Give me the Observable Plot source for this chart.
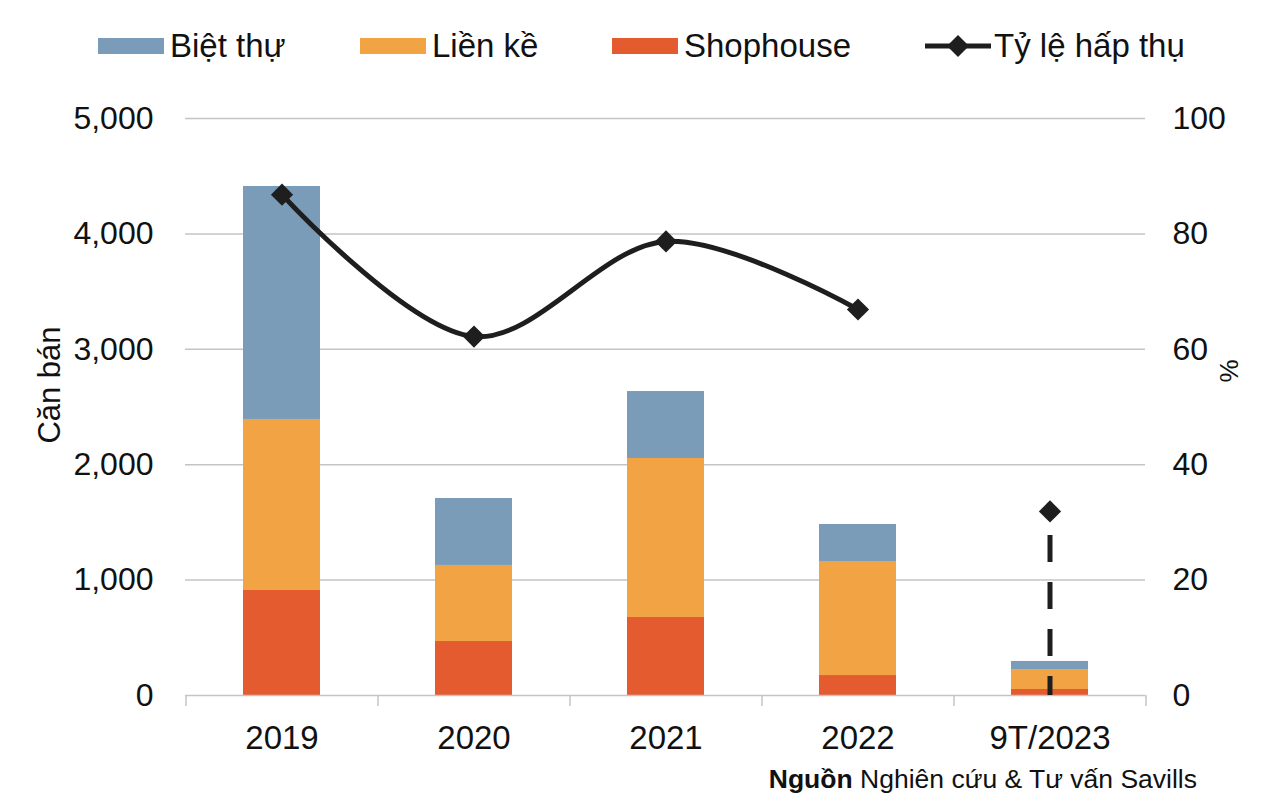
<!DOCTYPE html>
<html>
<head>
<meta charset="utf-8">
<script src="https://cdn.jsdelivr.net/npm/d3@7"></script>
<script src="https://cdn.jsdelivr.net/npm/@observablehq/plot@0.6"></script>
<style>
  html, body { margin: 0; padding: 0; background: #fff; }
  #wrap { position: relative; width: 1284px; height: 808px; font-family: "Liberation Sans", Arial, sans-serif; color: #111; }
  #chart { position: absolute; left: 0; top: 0; }
  .leg { position: absolute; top: 27px; height: 38px; display: flex; align-items: center; font-size: 33px; white-space: nowrap; }
  .sw { width: 66px; height: 16px; margin-right: 6px; }
  .caption { position: absolute; top: 764px; right: 87px; font-size: 26.5px; white-space: nowrap; }
</style>
</head>
<body>
<div id="wrap">
  <div id="chart"></div>
  <div class="leg" style="left:98px"><div class="sw" style="background:#7a9cb8"></div>Biệt thự</div>
  <div class="leg" style="left:360px"><div class="sw" style="background:#f2a444"></div>Liền kề</div>
  <div class="leg" style="left:612px"><div class="sw" style="background:#e55b30"></div>Shophouse</div>
  <div class="leg" style="left:925px">
    <svg width="66" height="30" style="margin-right:3px"><line x1="0" y1="15" x2="66" y2="15" stroke="#1e1e1e" stroke-width="5"/><path d="M33,4 L44,15 L33,26 L22,15 Z" fill="#1e1e1e"/></svg>Tỷ lệ hấp thụ
  </div>
  <div class="caption"><b>Nguồn</b> Nghiên cứu &amp; Tư vấn Savills</div>
</div>
<script>
const categories = ["2019", "2020", "2021", "2022", "9T/2023"];
const seriesNames = ["Shophouse", "Liền kề", "Biệt thự"];
const shophouse = [910, 468, 676, 173, 52];
const lienKe = [1482, 659, 1378, 988, 173];
const bietThu = [2019, 580, 580, 321, 70];
const tyLe = [86.8, 62.2, 78.7, 66.9, 31.9];
const colors = ["#e55b30", "#f2a444", "#7a9cb8"];
const leftTicks = [0, 1000, 2000, 3000, 4000, 5000];
const yTitle = "Căn bán";
const y2Title = "%";

const pctScale = 50; // 100% maps to 5,000 on the shared axis

const seriesValues = [shophouse, lienKe, bietThu];
const bars = [];
categories.forEach((c, i) => {
  seriesNames.forEach((s, j) => bars.push({cat: c, series: s, value: seriesValues[j][i]}));
});
const pts = categories.map((c, i) => ({cat: c, v: tyLe[i]}));
const linePts = pts.slice(0, 4);
const lastPt = pts.slice(4);

const step = 192;
const chart = Plot.plot({
  width: 1284,
  height: 808,
  marginTop: 118,
  marginBottom: 113,
  marginLeft: 185,
  marginRight: 139,
  style: {fontFamily: "Liberation Sans, Arial, sans-serif", fontSize: "32px", color: "#111", background: "transparent"},
  x: {domain: categories, paddingInner: 0.6, paddingOuter: 0.3, label: null},
  y: {domain: [0, 5000], label: null},
  color: {domain: seriesNames, range: colors},
  marks: [
    Plot.gridY(leftTicks.slice(1), {stroke: "#c4c4c4", strokeOpacity: 1, strokeWidth: 1.5}),
    Plot.barY(bars, {x: "cat", y: "value", fill: "series", order: seriesNames}),
    Plot.ruleY([0], {stroke: "#c4c4c4", strokeWidth: 1.5}),
    Plot.ruleX(categories, {x: d => d, y1: 0, y2: -95, dx: -step / 2, stroke: "#c4c4c4", strokeWidth: 1.5}),
    Plot.ruleX(categories.slice(-1), {x: d => d, y1: 0, y2: -95, dx: step / 2, stroke: "#c4c4c4", strokeWidth: 1.5}),
    Plot.axisY(leftTicks, {anchor: "left", tickSize: 0, tickPadding: 32, tickFormat: d3.format(","), label: null, fontSize: 32}),
    Plot.axisY(leftTicks, {anchor: "right", tickSize: 0, tickPadding: 27, tickFormat: d => d / pctScale, label: null, fontSize: 32}),
    Plot.axisX({tickSize: 0, tickPadding: 30, fontSize: 33, label: null}),
    Plot.text([yTitle], {text: d => d, frameAnchor: "left", textAnchor: "middle", rotate: -90, dx: -135, dy: -22, fontSize: 31, fill: "#111"}),
    Plot.text([y2Title], {text: d => d, frameAnchor: "right", textAnchor: "middle", rotate: -90, dx: 84, dy: -36, fontSize: 26, fill: "#111"}),
    Plot.line(linePts, {x: "cat", y: d => d.v * pctScale, curve: "catmull-rom", stroke: "#1e1e1e", strokeWidth: 5}),
    Plot.ruleX(lastPt, {x: "cat", y1: d => d.v * pctScale, y2: 0, insetTop: 24, stroke: "#1e1e1e", strokeWidth: 5, strokeDasharray: "27,20"}),
    Plot.dot(pts, {x: "cat", y: d => d.v * pctScale, symbol: "diamond2", r: 10, fill: "#1e1e1e", stroke: "none"})
  ]
});
document.getElementById("chart").appendChild(chart);
</script>
</body>
</html>
